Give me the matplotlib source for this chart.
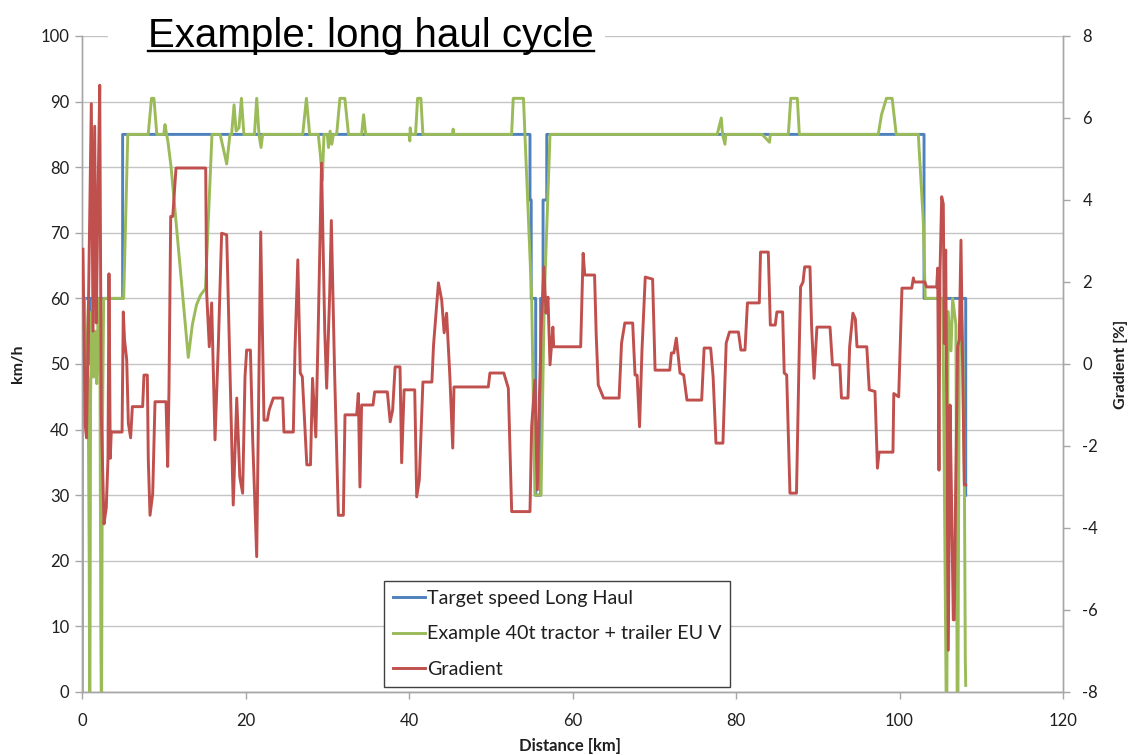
import matplotlib
matplotlib.use("Agg")
import matplotlib.pyplot as plt
from matplotlib.lines import Line2D
from matplotlib.patches import Rectangle

plt.rcParams['axes.unicode_minus'] = False

# ---------------- data ----------------
target_km = [0.0, 0.05, 0.9, 0.92, 0.97, 0.99, 4.97, 4.97, 54.8, 54.8, 54.95, 54.95,
             55.5, 55.5, 56.1, 56.1, 56.4, 56.4, 56.85, 56.85, 103.0, 103.0, 108.1, 108.1]
target_speed = [0, 60, 60, 50, 50, 60, 60, 85, 85, 75, 75, 60,
                60, 30, 30, 60, 60, 75, 75, 85, 85, 60, 60, 30]

truck_km = [0.0, 0.05, 0.15, 0.3, 0.5, 0.75, 0.88, 0.93, 0.97, 1.05, 1.2, 1.4, 1.6, 1.8, 2.0,
            2.2, 2.3, 2.35, 2.4, 2.5, 2.65, 5.1, 5.6,
            8.1, 8.5, 8.8, 9.15,
            10.0, 10.15, 10.35,
            10.5, 10.9, 13.0, 13.5, 14.0, 14.5, 15.1, 15.9,
            16.9, 17.7, 18.1, 18.3, 18.6, 18.85, 19.2, 19.5, 19.8, 21.1, 21.37, 21.65, 21.9, 22.1,
            27.0, 27.45, 27.85,
            28.9, 29.15, 29.4, 29.6, 30.0, 30.15, 30.35, 30.55, 30.75,
            31.15, 31.55, 32.15, 32.6,
            34.2, 34.45, 34.7,
            40.0, 40.1, 40.15, 40.25,
            40.8, 41.05, 41.45, 41.7,
            45.3, 45.4, 45.5,
            52.55, 52.75, 54.0, 55.0, 55.4, 56.15, 56.55, 57.25,
            77.7, 78.2, 78.35, 78.65, 78.75,
            83.2, 84.1, 84.2,
            86.4, 86.7, 87.5, 87.75,
            97.4, 97.8, 98.4, 99.1, 99.6,
            102.3, 102.9, 103.15, 105.3, 105.7, 105.8, 105.95, 106.3, 106.5, 106.9,
            107.05, 107.15, 107.3, 107.5, 107.75, 107.95, 108.05, 108.1]
truck_speed = [0, 38, 47, 60, 52, 47, 20, 0, 0, 45, 58, 48, 55, 47, 60,
               48, 10, 0, 0, 40, 60, 60, 85,
               85, 90.5, 90.5, 85,
               85, 86.5, 85,
               84, 80, 51, 56, 59, 60.5, 61.5, 85,
               85, 80.5, 85, 85, 89.5, 85.5, 86, 90.5, 85, 85, 90.5, 85, 83, 85,
               85, 90.5, 85,
               85, 82, 78, 85, 85, 83, 85.5, 83.5, 85,
               85, 90.5, 90.5, 85,
               85, 88, 85,
               85, 84, 86, 85,
               85, 90.5, 90.5, 85,
               85, 85.8, 85,
               85, 90.5, 90.5, 60.3, 30, 30, 60, 85,
               85, 87.5, 85, 83.5, 85,
               85, 83.8, 85,
               85, 90.5, 90.5, 85,
               85, 88, 90.5, 90.5, 85,
               85, 72, 60, 60, 0, 0, 58, 52, 60, 56,
               0, 0, 50, 60, 52, 30, 5, 1]

grad_km = [0.12, 0.4, 0.55, 0.65, 0.9, 1.14, 1.35, 1.55, 1.75, 1.95, 2.17, 2.36, 2.69, 2.97,
           3.18, 3.3, 3.46, 3.58, 4.9, 5.05, 5.2, 5.47, 5.67, 5.95, 6.16, 7.42, 7.58, 7.99,
           8.11, 8.32, 8.65, 8.93, 10.28, 10.48, 10.64, 10.85, 11.1, 11.5, 15.13, 15.25,
           15.57, 15.86, 16.27, 16.67, 17.08, 17.7, 18.1, 18.5, 18.93, 19.3, 19.65, 19.94,
           20.14, 20.6, 20.88, 21.37, 21.86, 22.26, 22.67, 22.9, 23.4, 24.55, 24.7, 25.85,
           26.05, 26.4, 26.7, 26.95, 27.5, 27.95, 28.2, 28.6, 28.9, 29.3, 29.7, 29.93, 30.3,
           30.5, 30.9, 31.36, 31.97, 32.17, 33.6, 33.8, 34.0, 34.2, 35.6, 35.8, 37.35, 37.7,
           38.0, 38.3, 38.9, 39.1, 39.4, 40.7, 40.94, 41.26, 41.7, 42.8, 43.0, 43.6, 44.0,
           44.3, 44.6, 45.0, 45.35, 45.5, 49.7, 49.9, 51.6, 52.15, 52.56, 54.8, 55.0, 55.4,
           55.7, 55.95, 56.2, 56.5, 56.76, 57.0, 57.25, 57.6, 57.7, 61.0, 61.3, 61.5, 62.7,
           62.9, 63.15, 63.8, 65.7, 66.0, 66.4, 67.36, 67.65, 67.9, 68.2, 68.5, 68.9, 69.8,
           70.1, 71.9, 72.1, 72.4, 72.7, 73.15, 73.6, 74.0, 75.8, 76.1, 76.9, 77.2, 77.55,
           78.4, 78.8, 79.2, 80.3, 80.6, 81.1, 81.4, 82.85, 83.0, 83.95, 84.2, 84.8, 85.0,
           85.7, 85.9, 86.2, 86.6, 87.4, 87.75, 87.9, 88.2, 88.4, 89.05, 89.25, 89.55, 89.9,
           91.5, 91.8, 92.7, 92.9, 93.7, 93.9, 94.3, 94.6, 94.8, 96.0, 96.3, 97.0, 97.3,
           97.5, 99.2, 99.3, 99.9, 100.3, 101.5, 101.7, 101.8, 103.1, 103.3, 104.55, 104.67,
           104.83, 104.95, 105.16, 105.36, 105.48, 105.65, 105.77, 105.97, 106.18, 106.38,
           106.58, 106.7, 106.87, 107.11, 107.31, 107.52, 107.69, 107.93, 108.1]
grad_pct = [2.8, -1.5, -1.8, -0.5, 3.0, 6.35, 0.8, 5.8, 1.0, 4.0, 6.8, -1.2, -3.9, -3.5,
            -2.3, 2.2, -2.3, -1.66, -1.66, 1.27, 0.6, 0.1, -1.45, -1.8, -1.04, -1.04, -0.27, -0.27,
            -2.34, -3.69, -3.16, -0.92, -0.92, -2.5, -0.63, 3.6, 3.6, 4.78, 4.78, 1.73,
            0.42, 1.49, -1.85, 0.42, 3.19, 3.15, -0.15, -3.44, -0.83, -2.75, -3.15, -0.31,
            0.34, 0.34, -1.85, -4.7, 3.22, -1.37, -1.37, -1.12, -0.83, -0.83, -1.66, -1.66,
            0.34, 2.54, -0.22, -0.31, -2.46, -2.46, -0.35, -1.78, 0.9, 4.9, 0.76, -0.59, 1.73,
            3.5, -0.22, -3.69, -3.69, -1.24, -1.24, -0.72, -3.0, -1.0, -1.0, -0.68, -0.68, -1.41,
            -1.12, -0.07, -0.07, -2.41, -0.63, -0.63, -3.24, -2.83, -0.44, -0.44, 0.46, 1.98, 1.56,
            0.76, 1.24, -0.31, -2.05, -0.56, -0.56, -0.22, -0.22, -0.59, -3.6, -3.6, -1.53, -0.39,
            -3.07, -0.8, 1.0, 2.37, 1.24, 1.63, -0.02, 0.9, 0.42, 0.42, 2.7, 2.17, 2.17,
            0.71, -0.51, -0.83, -0.83, 0.51, 1.0, 1.0, -0.27, -0.27, -1.53, 0.34, 2.12, 2.07,
            -0.15, -0.15, 0.27, 0.27, 0.63, -0.22, -0.27, -0.88, -0.88, 0.39, 0.39, -0.31, -1.93,
            -1.93, 0.51, 0.78, 0.78, 0.34, 0.34, 1.49, 1.49, 2.73, 2.73, 0.95, 0.95, 1.27,
            1.27, -0.22, -0.27, -3.15, -3.15, 0.51, 1.88, 2.0, 2.37, 2.37, 0.9, -0.35, 0.9,
            0.9, -0.02, -0.02, -0.83, -0.83, 0.42, 1.24, 1.1, 0.42, 0.42, -0.63, -0.67, -2.54,
            -2.15, -2.15, -0.72, -0.8, 1.85, 1.85, 2.1, 2.0, 2.0, 1.88, 1.88, 2.34,
            -2.59, 2.2, 4.08, 3.9, 0.5, 2.78, -1.0, -6.98, -1.0, -3.5,
            -6.24, -6.24, -3.0, 0.42, 0.6, 3.02, 0.42, -2.95, -2.95]

x_ticks = [0, 20, 40, 60, 80, 100, 120]
speed_ticks = [0, 10, 20, 30, 40, 50, 60, 70, 80, 90, 100]
grad_ticks = [-8, -6, -4, -2, 0, 2, 4, 6, 8]

labels = ["Target speed Long Haul", "Example 40t tractor + trailer EU V", "Gradient"]
title_text = "Example: long haul cycle"

# ---------------- style ----------------
W, H = 1130, 755
BLUE = "#4F81BD"
GREEN = "#9BBB59"
RED = "#C0504D"
GRID = "#C4C4C4"
AXC = "#A6A6A6"
TXT = "#1F1F1F"
FONT = "Lato"
LW = 2.1

fig = plt.figure(figsize=(W / 100, H / 100), dpi=100)
fig.patch.set_facecolor("white")
ax = fig.add_axes([82 / W, (H - 692) / H, (1063 - 82) / W, (692 - 36) / H])
ax2 = ax.twinx()

l1, = ax.plot(target_km, target_speed, color=BLUE, lw=LW, solid_joinstyle="round", zorder=3)
l2, = ax.plot(truck_km, truck_speed, color=GREEN, lw=LW, solid_joinstyle="round", zorder=4)
l3, = ax2.plot(grad_km, grad_pct, color=RED, lw=LW, solid_joinstyle="round", zorder=5)

ax.set_xlim(0, 120)
ax.set_ylim(0, 100)
ax2.set_ylim(-8, 8)
ax.set_xticks(x_ticks)
ax.set_yticks(speed_ticks)
ax2.set_yticks(grad_ticks)

ax.grid(axis="y", color=GRID, lw=1.0)
ax.set_axisbelow(True)

for a in (ax, ax2):
    for s in a.spines.values():
        s.set_color(AXC)
        s.set_linewidth(1.0)
    a.spines["top"].set_visible(False)
    a.tick_params(colors=AXC, labelcolor=TXT, labelsize=12, length=5, width=1, direction="out")
    for lab in a.get_xticklabels() + a.get_yticklabels():
        lab.set_fontfamily(FONT)
ax.tick_params(axis="y", pad=4)
ax2.tick_params(axis="y", pad=9)
ax.tick_params(axis="x", pad=10)

fig.text(18 / W, 1 - 364 / H, "km/h", rotation=90, ha="center", va="center",
         fontsize=11.5, fontweight="bold", fontfamily=FONT, color=TXT)
fig.text(1121 / W, 1 - 364 / H, "Gradient [%]", rotation=90, ha="center", va="center",
         fontsize=11.5, fontweight="bold", fontfamily=FONT, color=TXT)
fig.text(570 / W, 1 - 746 / H, "Distance [km]", ha="center", va="center",
         fontsize=12, fontweight="bold", fontfamily=FONT, color=TXT)

leg = ax2.legend([l1, l2, l3], labels, loc="lower left",
                 bbox_to_anchor=(0.308, 0.0076), frameon=True, fancybox=False,
                 prop={"family": FONT, "size": 14.2}, handlelength=1.6, handletextpad=0.12,
                 labelspacing=0.95, borderpad=0.45, borderaxespad=0)
leg.get_frame().set_edgecolor("#404040")
leg.get_frame().set_linewidth(1.0)
leg.get_frame().set_alpha(1)
leg.set_zorder(10)
for t in leg.get_texts():
    t.set_color(TXT)

# title with white backing over top gridline
fig.patches.append(Rectangle((108 / W, 1 - 46 / H), (605 - 108) / W, 20 / H,
                             transform=fig.transFigure, facecolor="white",
                             edgecolor="none", zorder=20))
ttl = fig.text(148 / W, 1 - 47 / H, title_text, ha="left", va="baseline",
               fontsize=29, fontfamily="Liberation Sans", color="black", zorder=21)
fig.canvas.draw()
bb = ttl.get_window_extent()
uy = 1 - 51 / H
fig.lines.append(Line2D([bb.x0 / W, bb.x1 / W], [uy, uy], transform=fig.transFigure,
                        color="black", lw=1.7, zorder=22))

fig.savefig("out.png", dpi=100, facecolor="white")
